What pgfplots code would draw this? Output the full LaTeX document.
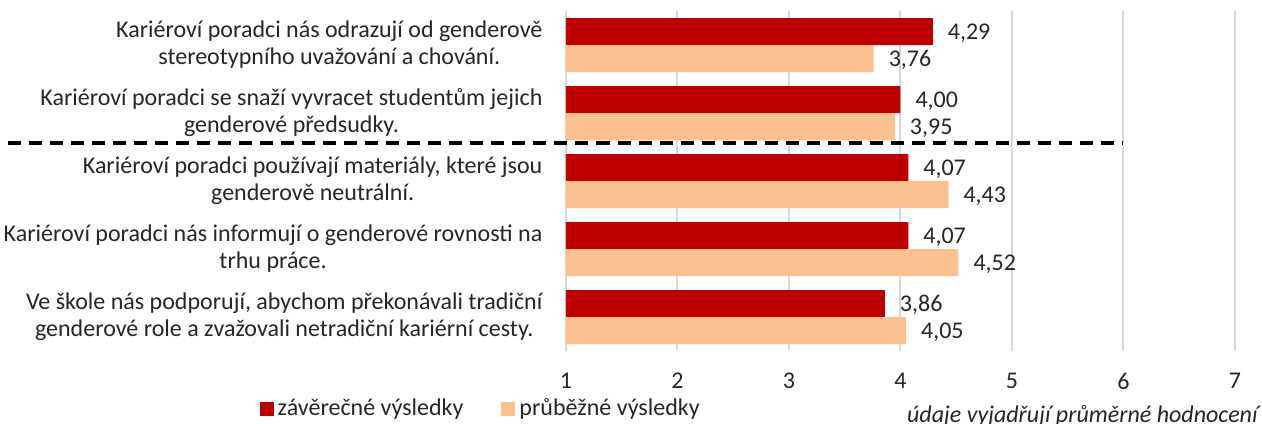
\documentclass[border=0pt]{standalone}
\usepackage{pgfplots}
\pgfplotsset{compat=1.18}
\usepackage{fontspec}
\setmainfont{Carlito}
\definecolor{cred}{HTML}{C00000}
\definecolor{cpeach}{HTML}{FAC090}
\definecolor{cgrid}{HTML}{D9D9D9}
\definecolor{ctext}{HTML}{262626}
\begin{document}
\begin{tikzpicture}[font=\fontsize{12}{13.5}\selectfont, every node/.style={text=ctext}]
\begin{axis}[
  scale only axis,
  width=334.5pt, height=170pt,
  xbar, bar width=13.5pt,
  xmin=1, xmax=7,
  ymin=-0.5, ymax=4.5,
  y dir=reverse,
  xtick={1,...,7},
  ytick={0,1,2,3,4},
  yticklabels={
    {Kariéroví poradci nás odrazují od genderově\\stereotypního uvažování a chování.},
    {Kariéroví poradci se snaží vyvracet studentům jejich\\genderové předsudky.},
    {Kariéroví poradci používají materiály, které jsou\\genderově neutrální.},
    {Kariéroví poradci nás informují o genderové rovnosti na\\trhu práce.},
    {Ve škole nás podporují, abychom překonávali tradiční\\genderové role a zvažovali netradiční kariérní cesty.}
  },
  yticklabel style={align=center, font=\fontsize{12}{13.5}\selectfont, xshift=-4pt},
  xticklabel style={font=\fontsize{12}{13.5}\selectfont, yshift=-7.5pt},
  /pgf/number format/assume math mode=true,
  axis line style={draw=none},
  tick style={draw=none},
  xmajorgrids, grid style={cgrid, line width=1pt},
  clip=false,
  nodes near coords,
  nodes near coords style={font=\fontsize{12}{13.5}\selectfont, anchor=west, xshift=4pt, yshift=-0.7pt, text=ctext,
    /pgf/number format/.cd, fixed, fixed zerofill, precision=2, use comma, assume math mode=true},
  legend style={at={(-0.126,-0.17)}, anchor=center, draw=none, legend columns=2,
    font=\fontsize{12}{13.5}\selectfont, /tikz/every even column/.append style={column sep=17pt}},
  legend image code/.code={\fill[#1] (0pt,-3.5pt) rectangle (7pt,3.5pt);},
]
\addplot[fill=cred, draw=none, bar shift=6.75pt] coordinates {(4.29,0) (4.00,1) (4.07,2) (4.07,3) (3.86,4)};
\addplot[fill=cpeach, draw=none, bar shift=-6.75pt] coordinates {(3.76,0) (3.95,1) (4.43,2) (4.52,3) (4.05,4)};
\legend{závěrečné výsledky, průběžné výsledky}
\draw[black, line width=2pt, dash pattern=on 6.5pt off 4pt] (axis cs:-4.0,1.44) -- (axis cs:6,1.44);
\end{axis}
\node[anchor=base east, font=\itshape\fontsize{12}{13.5}\selectfont, inner sep=0pt] at (346pt,-35.5pt) {údaje vyjadřují průměrné hodnocení};
\pgfresetboundingbox
\useasboundingbox (-283pt,-36pt) rectangle (348pt,175.5pt);
\end{tikzpicture}
\end{document}
